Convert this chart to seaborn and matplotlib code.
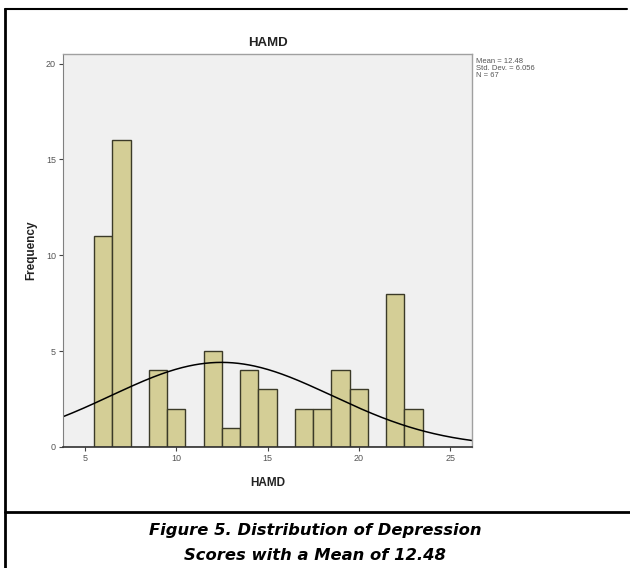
import numpy as np
import pandas as pd
import matplotlib
matplotlib.use("Agg")
import matplotlib.pyplot as plt
import seaborn as sns

# Data
scores = [6, 7, 9, 10, 12, 13, 14, 15, 17, 18, 19, 20, 22, 23]
counts = [11, 16, 4, 2, 5, 1, 4, 3, 2, 2, 4, 3, 8, 2]
mean_val = 12.48
sd_val = 6.056
n_val = 67
x_ticks = [5, 10, 15, 20, 25]
y_ticks = [0, 5, 10, 15, 20]

sns.set_style("white")
plt.rcParams['font.family'] = ['Liberation Sans', 'DejaVu Sans']

fig = plt.figure(figsize=(6.3, 5.68), dpi=100)
ax = fig.add_axes([63/630, 1-447/568, (472-63)/630, (447-54)/568])
ax.set_facecolor("#F0F0F0")

df = pd.DataFrame({"HAMD": scores, "count": counts})
sns.histplot(data=df, x="HAMD", weights="count", discrete=True, ax=ax,
             color="#D4CE96", edgecolor="#3B3A28", linewidth=1.0, alpha=1.0)

# fitted normal curve from stated mean / sd / N (bin width 1)
xs = np.linspace(3.8, 26.2, 300)
ys = n_val * 1.0 / (sd_val * np.sqrt(2*np.pi)) * np.exp(-0.5*((xs-mean_val)/sd_val)**2)
sns.lineplot(x=xs, y=ys, ax=ax, color="black", linewidth=1.1)

ax.set_xlim(3.8, 26.2)
ax.set_ylim(0, 20.5)
ax.set_xticks(x_ticks)
ax.set_yticks(y_ticks)
ax.tick_params(axis="both", labelsize=6.5, labelcolor="#555555", length=3,
               width=0.8, color="#444444", direction="out", bottom=True, left=True, pad=2)
for s in ["top", "right"]:
    ax.spines[s].set_color("#A0A0A0")
    ax.spines[s].set_linewidth(1.0)
ax.spines["left"].set_color("#808080")
ax.spines["bottom"].set_color("#303030")
ax.spines["bottom"].set_linewidth(1.2)

ax.set_xlabel("HAMD", fontsize=8.5, fontweight="bold", color="#222222", labelpad=10)
ax.set_ylabel("Frequency", fontsize=8.5, fontweight="bold", color="#222222", labelpad=6)
ax.set_title("HAMD", fontsize=9.5, fontweight="bold", color="#222222", pad=6)

fig.text(476/630, 1-58/568, f"Mean = {mean_val}\nStd. Dev. = {sd_val}\nN = {n_val}",
         fontsize=5.5, color="#555555", va="top", ha="left", linespacing=1.0)

# frame lines
fig.add_artist(plt.Line2D([5/630, 5/630], [0, 1-9/568], color="black", lw=2, transform=fig.transFigure))
fig.add_artist(plt.Line2D([5/630, 627/630], [1-9/568, 1-9/568], color="black", lw=1.5, transform=fig.transFigure))
fig.add_artist(plt.Line2D([5/630, 1], [1-512/568, 1-512/568], color="black", lw=2, transform=fig.transFigure))

fig.text(0.5, 1-531/568, "Figure 5. Distribution of Depression", ha="center", va="center",
         fontsize=11.8, fontweight="bold", fontstyle="oblique", fontfamily=["DejaVu Sans"], color="black")
fig.text(0.5, 1-555/568, "Scores with a Mean of 12.48", ha="center", va="center",
         fontsize=11.8, fontweight="bold", fontstyle="oblique", fontfamily=["DejaVu Sans"], color="black")

fig.savefig("out.png", dpi=100)
